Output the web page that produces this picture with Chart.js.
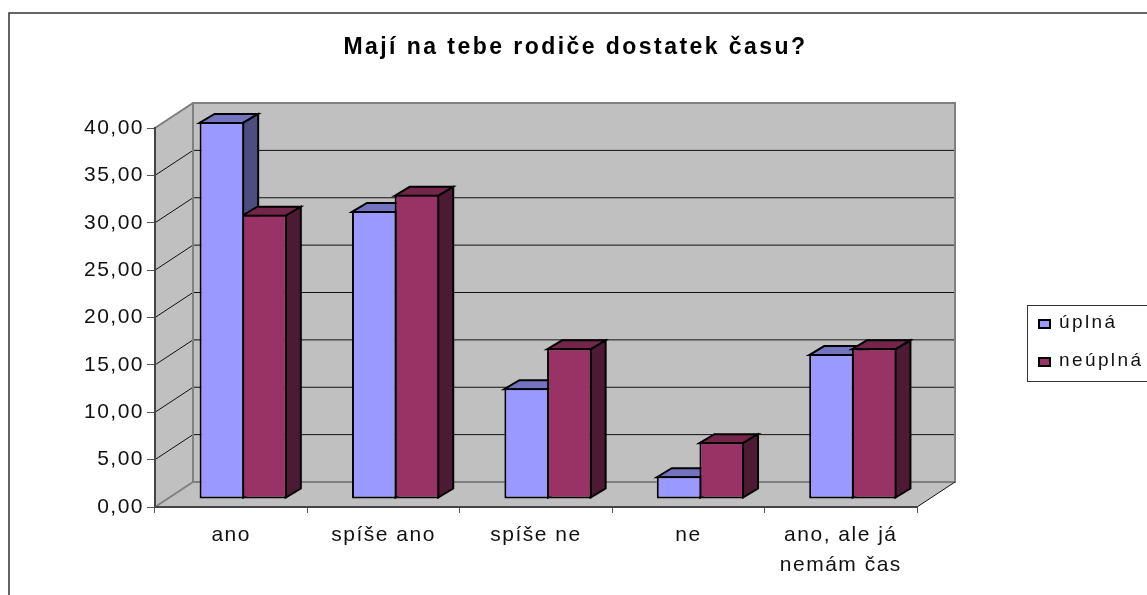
<!DOCTYPE html>
<html><head><meta charset="utf-8">
<style>html,body{margin:0;padding:0;background:#fff;overflow:hidden}canvas{display:block}</style>
<script src="https://cdn.jsdelivr.net/npm/chart.js@4"></script></head>
<body><canvas id="c" width="1147" height="595"></canvas>
<script>
const categories=['ano','spíše ano','spíše ne','ne',['ano, ale já','nemám čas']];
const seriesNames=['úplná','neúplná'];
const uplna=[39.8,30.4,11.7,2.4,15.3];
const neuplna=[30.0,32.1,15.9,6.0,15.9];
const titleText='Mají na tebe rodiče dostatek času?';
const yTicks=[0,5,10,15,20,25,30,35,40];
const FRONT=['#9999FF','#993366'],TOP=['#7373BF','#732649'],SIDE=['#4D4D80','#4D1A33'];
const WX=38,WY=25,BX=12,BY=-8,DX=15,DY=-9;
function poly(ctx,p,fill,stroke,lw){ctx.beginPath();p.forEach((q,i)=>i?ctx.lineTo(q[0],q[1]):ctx.moveTo(q[0],q[1]));ctx.closePath();
 if(fill){ctx.fillStyle=fill;ctx.fill();} if(stroke){ctx.strokeStyle=stroke;ctx.lineWidth=lw;ctx.stroke();}}
function spaced(obj,name,sp,ctx){const d=obj[name];obj[name]=function(...a){ctx.save();ctx.letterSpacing=sp;d.apply(this,a);ctx.restore();};}
const scene={id:'scene',
 afterLayout(ch){const tb=ch.titleBlock;tb.left=0;tb.right=1151;
  if(!tb._sp){tb._sp=1;spaced(tb,'draw','2.45px',ch.ctx);spaced(ch.scales.x,'drawLabels','1.5px',ch.ctx);spaced(ch.scales.y,'drawLabels','1.5px',ch.ctx);}},
 beforeDraw(ch){const c=ch.ctx,a=ch.chartArea,y=ch.scales.y;c.save();
  c.fillStyle='#fff';c.fillRect(0,0,ch.width,ch.height);
  c.strokeStyle='#333';c.lineWidth=1.5;c.strokeRect(9,13,1160,640);
  const L=a.left,R=a.right,T=a.top,B=a.bottom;
  poly(c,[[L,B],[L+WX,B-WY],[R+WX,B-WY],[R,B]],'#C0C0C0');
  poly(c,[[L,T],[L+WX,T-WY],[L+WX,B-WY],[L,B]],'#C0C0C0');
  poly(c,[[L+WX,T-WY],[R+WX,T-WY],[R+WX,B-WY],[L+WX,B-WY]],'#C0C0C0');
  c.strokeStyle='#111';c.lineWidth=1;
  yTicks.forEach(v=>{if(v===0)return;const p=y.getPixelForValue(v);
   c.beginPath();c.moveTo(L,p);c.lineTo(L+WX,p-WY);c.lineTo(R+WX,p-WY);c.stroke();});
  c.strokeStyle='#808080';c.lineWidth=2;
  c.beginPath();c.moveTo(L,T);c.lineTo(L+WX,T-WY);c.lineTo(R+WX,T-WY);c.lineTo(R+WX,B-WY);c.lineTo(L+WX,B-WY);c.lineTo(L+WX,T-WY);c.stroke();
  c.beginPath();c.moveTo(L,B);c.lineTo(L+WX,B-WY);c.stroke();
  c.strokeStyle='#111';c.lineWidth=1;c.beginPath();c.moveTo(R,B);c.lineTo(R+WX,B-WY);c.stroke();
  c.restore();},
 beforeDatasetsDraw(ch){const c=ch.ctx;c.save();c.lineJoin='miter';
  [0,1].forEach(d=>{ch.getDatasetMeta(d).data.forEach(b=>{
   const w=b.width/2,l=b.x-w+BX,r=b.x+w+BX-1,t=b.y+BY+1,bm=b.base+BY-1;
   poly(c,[[l,t],[l+DX,t+DY],[r+DX,t+DY],[r,t]],TOP[d],'#000',2);
   poly(c,[[r,t],[r+DX,t+DY],[r+DX,bm+DY],[r,bm]],SIDE[d],'#000',2);
  });});c.restore();},
 beforeDatasetDraw(ch){ch.ctx.save();ch.ctx.translate(BX,BY);},
 afterDatasetDraw(ch){ch.ctx.restore();},
 afterDraw(ch){const c=ch.ctx;c.save();
  c.strokeStyle='#333';c.lineWidth=1;c.fillStyle='#fff';c.fillRect(1027.5,305.5,130,76);c.strokeRect(1027.5,305.5,130,76);
  c.font='19px "Liberation Sans"';c.letterSpacing='2.4px';c.textBaseline='middle';
  seriesNames.forEach((n,i)=>{const yy=i?361:323;
   c.fillStyle=FRONT[i];c.strokeStyle='#000';c.lineWidth=2;c.fillRect(1039,yy-3,11,8);c.strokeRect(1039,yy-3,11,8);
   c.fillStyle='#111';c.fillText(n,1059,yy);});
  c.restore();}
};
new Chart(document.getElementById('c'),{type:'bar',
 data:{labels:categories,datasets:[
  {label:seriesNames[0],data:uplna,backgroundColor:FRONT[0],borderColor:'#000',borderWidth:2,borderSkipped:false},
  {label:seriesNames[1],data:neuplna,backgroundColor:FRONT[1],borderColor:'#000',borderWidth:2,borderSkipped:false}]},
 options:{responsive:false,animation:false,
  layout:{padding:{left:0,right:230,top:0,bottom:0}},
  plugins:{legend:{display:false},tooltip:{enabled:false},
   title:{display:true,text:titleText,color:'#000',font:{family:'"Liberation Sans"',size:23,weight:'bold',lineHeight:1},padding:{top:36,bottom:69}}},
  datasets:{bar:{categoryPercentage:0.56,barPercentage:1.045}},
  scales:{
   x:{afterFit(s){s.height=88;},grid:{drawOnChartArea:false,tickLength:6,color:'#555',offset:true},border:{color:'#444',width:2},
      ticks:{color:'#111',font:{family:'"Liberation Sans"',size:21,lineHeight:1.4},maxRotation:0,padding:8}},
   y:{min:0,max:40,afterFit(s){s.width=155;},
      afterBuildTicks(s){s.ticks=yTicks.map(v=>({value:v}));},
      grid:{drawOnChartArea:false,tickLength:8,color:'#555'},border:{color:'#444',width:2},
      ticks:{color:'#111',font:{family:'"Liberation Sans"',size:21},padding:3,callback:v=>v.toFixed(2).replace('.',',')}}
  }},
 plugins:[scene]});
</script></body></html>
